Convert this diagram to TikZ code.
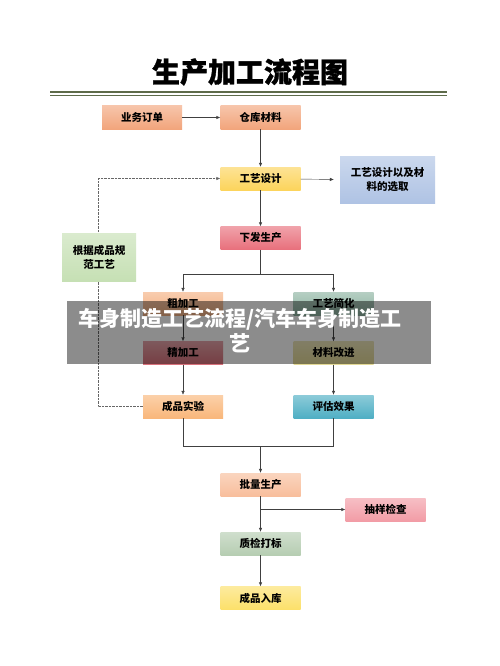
\documentclass[tikz,border=0pt]{standalone}
\usepackage{fontspec}
\setmainfont{Noto Sans CJK SC}
\newfontfamily\heavyfont[FakeBold=1.2]{Noto Sans CJK SC}
\usetikzlibrary{arrows.meta}

\definecolor{ordc}{HTML}{F2A57C}
\definecolor{desc}{HTML}{FCD45C}
\definecolor{selc}{HTML}{AFC3E4}
\definecolor{stdc}{HTML}{C6E0B4}
\definecolor{issc}{HTML}{E8707C}
\definecolor{roughc}{HTML}{F4B183}
\definecolor{simpc}{HTML}{8EB4A2}
\definecolor{finec}{HTML}{D8707A}
\definecolor{matc}{HTML}{E2D894}
\definecolor{testc}{HTML}{F9B77B}
\definecolor{evalc}{HTML}{4FAFC4}
\definecolor{batchc}{HTML}{F8BE9C}
\definecolor{sampc}{HTML}{F29CA6}
\definecolor{qcc}{HTML}{B6CDB2}
\definecolor{storc}{HTML}{FCE06A}
\definecolor{rulec}{HTML}{5E6B4A}
\definecolor{linec}{HTML}{404040}

\begin{document}
\begin{tikzpicture}[x=1pt,y=-1pt,
  box/.style={top color=#1!65!white, bottom color=#1, draw=none,
    minimum width=80pt, minimum height=23pt, inner sep=1pt,
    font=\bfseries\fontsize{10.5}{12}\selectfont, align=center},
  wide/.style={minimum width=95pt, minimum height=47pt},
  side/.style={minimum width=74pt, minimum height=48pt},
  line/.style={linec, thin},
  arr/.style={linec, thin, -{Latex[length=4pt,width=3.5pt]}},
  dots/.style={linec!80, thin, densely dotted}]

  \useasboundingbox (0,0) rectangle (500,666);
  \fill[white] (0,0) rectangle (500,666);

  % title
  \node (title) at (250,72) {\heavyfont\bfseries\fontsize{28}{30}\selectfont 生产加工流程图};
  \draw[rulec, line width=1.3pt] (50,92) -- (447,92);
  \draw[rulec, line width=0.5pt] (50,95.5) -- (447,95.5);

  % boxes
  \node[box=ordc] (order) at (142,117.5) {业务订单};
  \node[box=ordc] (stock) at (260.5,117.5) {仓库材料};
  \node[box=desc] (design) at (260.5,178.5) {工艺设计};
  \node[box=selc, wide] (select) at (387.5,179.5) {工艺设计以及材\\[2pt]料的选取};
  \node[box=issc] (issue) at (260.5,238) {下发生产};
  \node[box=roughc] (rough) at (183,303.5) {粗加工};
  \node[box=simpc] (simple) at (333.5,303.5) {工艺简化};
  \node[box=finec] (fine) at (183,353) {精加工};
  \node[box=matc] (mater) at (333.5,353) {材料改进};
  \node[box=testc] (test) at (183,406.5) {成品实验};
  \node[box=evalc] (eval) at (333.5,406.5) {评估效果};
  \node[box=batchc] (batch) at (260.5,484.5) {批量生产};
  \node[box=sampc] (sample) at (385.5,509.5) {抽样检查};
  \node[box=qcc] (qc) at (260.5,543.5) {质检打标};
  \node[box=storc] (store) at (260.5,598) {成品入库};

  % connectors
  \draw[arr] (order) -- (stock);
  \draw[arr] (stock) -- (design);
  \draw[arr] (design) -- ([xshift=-6pt]select.west);
  \draw[arr] (design) -- (issue);

  \coordinate (split) at (260.5,274);
  \draw[line] (issue) -- (split);
  \draw[arr] (split) -| (rough);
  \draw[arr] (split) -| (simple);
  \draw[arr] (rough) -- (fine);
  \draw[arr] (simple) -- (mater);
  \draw[arr] (fine) -- (test);
  \draw[arr] (mater) -- (eval);

  \coordinate (join) at (260.5,446);
  \draw[line] (test) |- (join);
  \draw[line] (eval) |- (join);
  \draw[arr] (join) -- (batch);

  \coordinate (tap) at (batch.south |- sample);
  \draw[arr] (batch) -- (qc);
  \draw[arr] (tap) -- (sample);
  \draw[arr] (qc) -- (store);

  % feedback loop
  \coordinate (back) at (98,406.5);
  \coordinate (up) at (98,178.5);
  \draw[dots] (test) -- (back) -- (up);
  \draw[dots, -{Latex[length=4pt,width=3.5pt]}] (up) -- (design);
  \node[box=stdc, side] (norm) at (99,257) {根据成品规\\[2pt]范工艺};

  % overlay band
  \fill[black, opacity=0.45] (67,301) rectangle (431,364);
  \node[white, align=center, font=\bfseries\fontsize{21}{25}\selectfont] (mark) at (240,331)
    {车身制造工艺流程/汽车车身制造工\\艺};

\end{tikzpicture}
\end{document}
